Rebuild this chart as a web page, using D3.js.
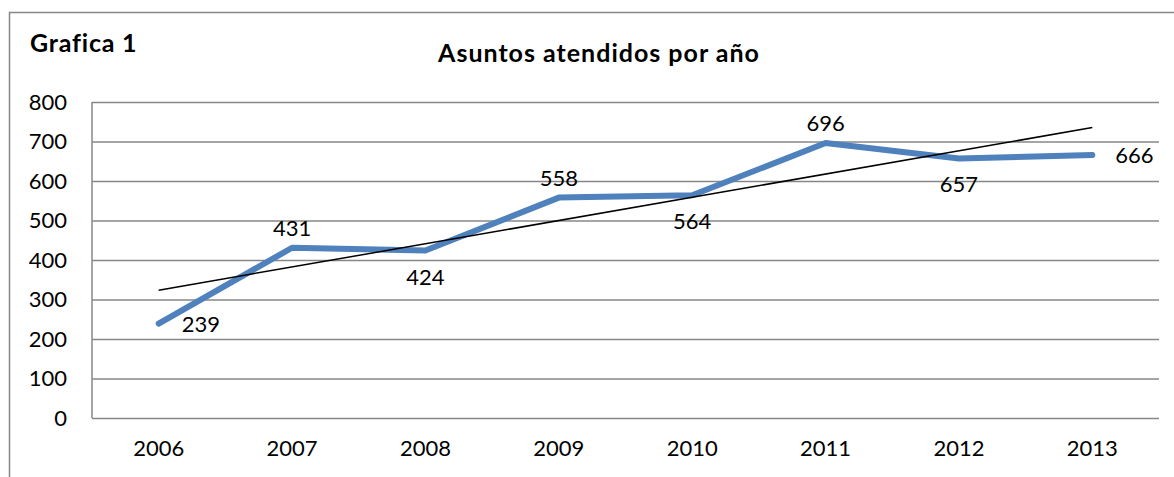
<!DOCTYPE html>
<html>
<head>
<meta charset="utf-8">
<script src="https://cdn.jsdelivr.net/npm/d3@7"></script>
<style>
  body { margin: 0; background: #fff; }
  text { font-family: Lato, "Open Sans", sans-serif; fill: #000; }
</style>
</head>
<body>
<svg width="1174" height="477"></svg>
<script>
const years = ["2006", "2007", "2008", "2009", "2010", "2011", "2012", "2013"];
const asuntos = [239, 431, 424, 558, 564, 696, 657, 666];
// where Excel put each data label
const labelPos = ["right", "above", "below", "above", "below", "above", "below", "right"];
const yTicks = [0, 100, 200, 300, 400, 500, 600, 700, 800];

const svg = d3.select("svg");
const plot = { left: 92, right: 1159, top: 102, bottom: 418 };

// outer chart border (right and bottom edges fall outside the picture)
svg.append("rect")
  .attr("x", 9.5).attr("y", 12.5)
  .attr("width", 1200).attr("height", 500)
  .attr("fill", "none").attr("stroke", "#878787").attr("stroke-width", 1.5);

svg.append("text")
  .attr("x", 30).attr("y", 52)
  .attr("font-size", 25).attr("font-weight", "bold")
  .attr("letter-spacing", 0.8)
  .text("Grafica 1");

svg.append("text")
  .attr("x", 599).attr("y", 62)
  .attr("text-anchor", "middle")
  .attr("font-size", 25).attr("font-weight", "bold")
  .attr("letter-spacing", 1)
  .text("Asuntos atendidos por año");

const x = d3.scaleBand()
  .domain(years)
  .range([plot.left, plot.right]);

const y = d3.scaleLinear()
  .domain([0, 800])
  .range([plot.bottom, plot.top]);

// gridlines + y labels
const yAxis = svg.append("g")
  .attr("transform", `translate(${plot.left},0)`)
  .call(d3.axisLeft(y).tickValues(yTicks).tickSize(-(plot.right - plot.left)).tickPadding(25));
yAxis.select(".domain").remove();
yAxis.selectAll(".tick line").attr("stroke", "#878787").attr("stroke-width", 1.5);
yAxis.selectAll(".tick text").attr("font-size", 22).attr("font-family", "Lato, sans-serif").attr("fill", "#000");

// left axis line
svg.append("line")
  .attr("x1", plot.left).attr("x2", plot.left)
  .attr("y1", plot.top).attr("y2", plot.bottom)
  .attr("stroke", "#878787").attr("stroke-width", 1.5);

const xAxis = svg.append("g")
  .attr("transform", `translate(0,${plot.bottom})`)
  .call(d3.axisBottom(x).tickSize(0).tickPadding(22));
xAxis.select(".domain").remove();
xAxis.selectAll(".tick text").attr("font-size", 22).attr("font-family", "Lato, sans-serif").attr("fill", "#000").attr("dy", "0.71em");

const cx = (d) => x(d) + x.bandwidth() / 2;
const pts = years.map((yr, i) => ({ yr, v: asuntos[i], pos: labelPos[i] }));

// linear trendline (least squares, as Excel does)
const n = asuntos.length;
const mx = (n + 1) / 2;
const my = d3.mean(asuntos);
const slope = d3.sum(asuntos, (v, i) => (i + 1 - mx) * (v - my)) / d3.sum(asuntos, (v, i) => (i + 1 - mx) ** 2);
const trend = (k) => my + slope * (k - mx);

svg.append("path")
  .datum(pts)
  .attr("fill", "none")
  .attr("stroke", "#4F81BD")
  .attr("stroke-width", 6)
  .attr("stroke-linejoin", "round")
  .attr("stroke-linecap", "round")
  .attr("d", d3.line().x((d) => cx(d.yr)).y((d) => y(d.v)));

svg.append("line")
  .attr("x1", cx(years[0])).attr("y1", y(trend(1)))
  .attr("x2", cx(years[n - 1])).attr("y2", y(trend(n)))
  .attr("stroke", "#000").attr("stroke-width", 1.5);

svg.selectAll(".lbl")
  .data(pts)
  .join("text")
  .attr("class", "lbl")
  .attr("font-size", 22)
  .attr("text-anchor", (d) => (d.pos === "right" ? "start" : "middle"))
  .attr("x", (d) => (d.pos === "right" ? cx(d.yr) + 23 : cx(d.yr)))
  .attr("y", (d) => {
    if (d.pos === "above") return y(d.v) - 12;
    if (d.pos === "below") return y(d.v) + 34;
    return y(d.v) + 8;
  })
  .text((d) => d.v);
</script>
</body>
</html>
